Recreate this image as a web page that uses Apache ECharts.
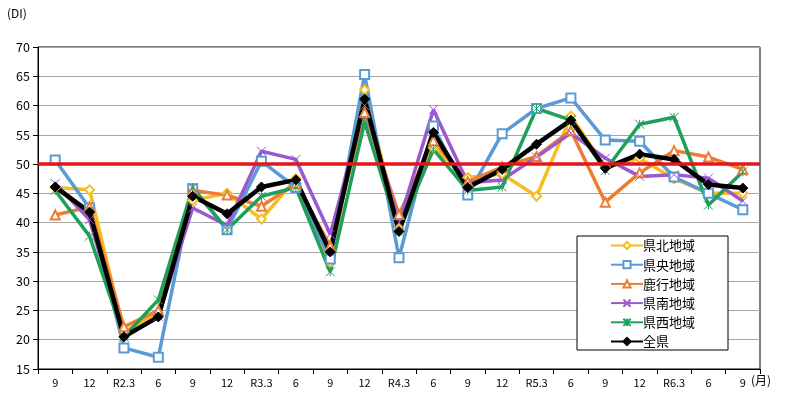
<!DOCTYPE html>
<html>
<head>
<meta charset="utf-8">
<script src="https://cdn.jsdelivr.net/npm/echarts@6/dist/echarts.min.js"></script>
<style>
  html, body { margin: 0; padding: 0; background: #fff; }
  #chart { width: 785px; height: 398px; }
</style>
</head>
<body>
<div id="chart"></div>
<script>
var categories = ['9', '12', 'R2.3', '6', '9', '12', 'R3.3', '6', '9', '12', 'R4.3', '6', '9', '12', 'R5.3', '6', '9', '12', 'R6.3', '6', '9'];

var kenpoku = [46.0, 45.6, 21.3, 24.5, 43.8, 45.0, 40.6, 47.5, 33.2, 62.7, 39.0, 52.8, 47.7, 48.3, 44.5, 58.2, 49.5, 51.0, 47.5, 45.0, 45.0];
var kenou   = [50.7, 42.5, 18.6, 17.0, 45.8, 38.8, 50.5, 46.0, 33.8, 65.3, 34.0, 56.5, 44.7, 55.2, 59.5, 61.3, 54.1, 53.9, 47.8, 45.0, 42.2];
var rokko   = [41.3, 42.7, 22.2, 25.0, 45.5, 44.7, 42.8, 46.7, 36.0, 58.8, 41.4, 54.0, 47.0, 49.5, 51.3, 55.7, 43.5, 48.5, 52.3, 51.2, 49.1];
var kennan  = [46.7, 40.5, 20.5, 24.0, 42.5, 39.5, 52.2, 50.8, 38.0, 60.0, 40.0, 59.3, 46.8, 47.3, 51.2, 55.3, 51.0, 47.9, 48.2, 47.6, 43.7];
var kensei  = [45.5, 37.7, 20.5, 26.8, 46.0, 38.8, 44.5, 46.0, 31.6, 57.2, 38.5, 52.5, 45.5, 46.1, 59.5, 57.5, 48.9, 56.8, 58.0, 43.0, 48.7];
var zenken  = [46.1, 41.8, 20.5, 23.9, 44.5, 41.5, 46.1, 47.3, 35.0, 61.1, 38.5, 55.4, 46.0, 49.1, 53.4, 57.5, 49.3, 51.7, 50.8, 46.5, 45.9];

var refLine = 50;
var font = '"Noto Sans CJK JP", "DejaVu Sans", sans-serif';

var X_MARK = 'path://M0,0L10,10M10,0L0,10';
var STAR_MARK = 'path://M0,0L10,10M10,0L0,10M5,0L5,10';

function lineSeries(name, data, color, symbol, size, extra) {
    var s = {
        name: name,
        type: 'line',
        data: data,
        symbol: symbol,
        symbolSize: size,
        showAllSymbol: true,
        lineStyle: { color: color, width: 3.5 },
        itemStyle: { color: color, borderColor: color, borderWidth: 1 }
    };
    for (var k in extra) s[k] = extra[k];
    return s;
}

var option = {
    animation: false,
    textStyle: { fontFamily: font },
    grid: {
        left: 38,
        right: 25,
        top: 47,
        bottom: 29,
        show: true,
        borderColor: '#000',
        borderWidth: 1
    },
    legend: {
        orient: 'vertical',
        left: 577,
        top: 236,
        padding: [2, 33, 1, 33],
        itemGap: 4.2,
        itemWidth: 32,
        itemHeight: 9,
        borderColor: '#000',
        borderWidth: 1,
        backgroundColor: '#fff',
        textStyle: { fontSize: 13, lineHeight: 15, color: '#000', fontFamily: font, padding: [0, 0, 0, -5] },
        data: ['県北地域', '県央地域', '鹿行地域', '県南地域', '県西地域', '全県']
    },
    graphic: [
        { type: 'text', left: 7, top: 7, style: { text: '(DI)', fontSize: 12, fill: '#000', fontFamily: font } },
        { type: 'text', left: 751, top: 374, style: { text: '(月)', fontSize: 12, fill: '#000', fontFamily: font } }
    ],
    xAxis: {
        type: 'category',
        data: categories,
        boundaryGap: true,
        axisLine: { lineStyle: { color: '#000', width: 1 } },
        axisTick: { show: true, length: 5, lineStyle: { color: '#000' } },
        axisLabel: { fontSize: 11, color: '#000', margin: 8, interval: 0 }
    },
    yAxis: {
        type: 'value',
        min: 15,
        max: 70,
        interval: 5,
        axisLine: { show: true, lineStyle: { color: '#000', width: 1 } },
        axisTick: { show: true, length: 5, lineStyle: { color: '#000' } },
        axisLabel: { fontSize: 12.5, color: '#000', margin: 8 },
        splitLine: { lineStyle: { color: '#a6a6a6', width: 1 } }
    },
    series: [
        lineSeries('県北地域', kenpoku, '#f5bd1f', 'emptyDiamond', 9),
        lineSeries('県央地域', kenou, '#5b9bd5', 'emptyRect', 9),
        lineSeries('鹿行地域', rokko, '#ed7d31', 'emptyTriangle', 9),
        lineSeries('県南地域', kennan, '#9b59cf', X_MARK, 9),
        lineSeries('県西地域', kensei, '#1fa05a', STAR_MARK, 9, {
            markLine: {
                silent: true,
                symbol: 'none',
                label: { show: false },
                lineStyle: { color: '#e3171a', width: 3.5, type: 'solid' },
                data: [{ yAxis: refLine }]
            }
        }),
        lineSeries('全県', zenken, '#000', 'diamond', 10, { lineStyle: { color: '#000', width: 4.5 } })
    ]
};

var chart = echarts.init(document.getElementById('chart'));
chart.setOption(option);
</script>
</body>
</html>
